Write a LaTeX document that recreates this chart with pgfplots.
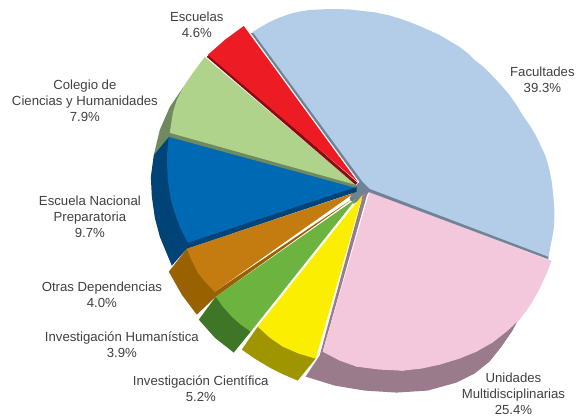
\documentclass[border=0pt]{standalone}
\usepackage{pgfplots}
\usepackage{fontspec}
\setmainfont{Liberation Sans}
\pgfplotsset{compat=1.18}
\definecolor{cFac}{HTML}{B3CDE8}
\definecolor{cFacS}{HTML}{6F8296}
\definecolor{cUni}{HTML}{F3C7DC}
\definecolor{cUniS}{HTML}{9A7B8B}
\definecolor{cYel}{HTML}{FBEE00}
\definecolor{cYelS}{HTML}{9E9500}
\definecolor{cGre}{HTML}{6DB33F}
\definecolor{cGreS}{HTML}{3E7526}
\definecolor{cOra}{HTML}{C47B10}
\definecolor{cOraS}{HTML}{9A6100}
\definecolor{cBlu}{HTML}{0069B4}
\definecolor{cBluS}{HTML}{004377}
\definecolor{cLgr}{HTML}{B0D38C}
\definecolor{cLgrS}{HTML}{6F8A5E}
\definecolor{cRed}{HTML}{ED1C24}
\definecolor{cRedS}{HTML}{8B0A14}
\definecolor{cTxt}{HTML}{404040}
\begin{document}
\begin{tikzpicture}
\begin{axis}[
  width=578pt,height=418pt,scale only axis,
  xmin=0,xmax=578,ymin=0,ymax=418,y dir=reverse,
  hide axis,clip=false,
  every axis plot/.append style={draw=none,line width=0pt,mark=none},
]
\path (axis cs:0,0) rectangle (axis cs:578,418);
% hub
\addplot[fill=cFacS] coordinates {(355,187)(362,180)(371,190)(368,194)(362,199)(354,204)(350,199)} -- cycle;
% Unidades shadow
\addplot[fill=cUniS] coordinates {(364,193)(368,193)(323,352)(357,367)(403,371)(440,365)(477,352)(507,330)(520,318)(513,331)(502,347)(490,362)(475,374)(457,383)(428,391)(397,393)(365,391)(335,386)(306,377)(320,356)} -- cycle;
% Unidades
\addplot[fill=cUni] coordinates {(370,192)(552,261)(548,272)(543,283)(538,293)(533,302)(527,311)(520,320)(507,332)(493,343)(477,352)(460,359)(440,365)(422,369)(403,371)(380,370)(357,367)(340,361)(323,352)} -- cycle;
% Facultades stripe + top
\addplot[fill=cFacS] coordinates {(251,33)(359,181)(366,191)(549,259.5)(549,255)(370,186)(262,33)} -- cycle;
\addplot[fill=cFac] coordinates {(253,32)(363,182)(370,189)(549,257)(551,247)(553,237)(554.5,227)(555,217)(554.8,207)(554,197)(552.5,183)(550,170)(546,156)(540,143)(536,135)(530,125)(523,115)(517,105)(510,95)(501,84.5)(492,75)(484,67)(475,60)(468,53)(460,47)(450,41)(440,35)(430,30.5)(420,26)(410,22)(400,18.5)(390,15.5)(376,12.5)(363,11)(350,9.5)(337,9)(323,9.3)(310,10)(300,11.5)(290,14)(280,17.5)(270,22)(261,27)} -- cycle;
% Yellow
\addplot[fill=cYelS] coordinates {(258,327)(242,350)(255,359)(270,368)(284,375)(298,381)(316,359)} -- cycle;
\addplot[fill=cYel] coordinates {(363,195)(316,359)(299,354)(283,347)(270,338)(258,327)} -- cycle;
% Green
\addplot[fill=cGreS] coordinates {(216,297)(199,320)(215,338)(234,353)(251,332)} -- cycle;
\addplot[fill=cGre] coordinates {(357,198.5)(251,332)(241,325)(232,317)(223,307)(216,297)} -- cycle;
% Orange
\addplot[fill=cOraS] coordinates {(356,197)(215,292)(187,249)(169,272)(182,295)(197,315)(216,297)} -- cycle;
\addplot[fill=cOra] coordinates {(355,193)(215,292)(206,283)(198,273)(192,261)(187,249)} -- cycle;
% Blue
\addplot[fill=cBluS] coordinates {(357,187)(169,135)(154,155)(151,177)(152,197)(155,218)(160,237)(172,266)(187,249)(357,192)} -- cycle;
\addplot[fill=cBlu] coordinates {(357,187)(169,135)(167,157)(168,180)(171,200)(175,213)(180,227)(188,243)} -- cycle;
% Light green
\addplot[fill=cLgrS] coordinates {(183,88)(170,107)(160,130)(154,155)(169,137)(356,188)(356,185)} -- cycle;
\addplot[fill=cLgr] coordinates {(356,185)(205,57)(193,73)(183,88)(177,100)(173,113)(170,133)} -- cycle;
% Red
\addplot[fill=cRedS] coordinates {(207,57)(356,185)(358,183)(210,54)} -- cycle;
\addplot[fill=cRed] coordinates {(358,182)(244,26)(225,40)(208,55)} -- cycle;
% Labels
\node[align=center,text=cTxt,font=\fontsize{13.2}{16}\selectfont] at (axis cs:543,80) {Facultades\\39.3\%};
\node[align=center,text=cTxt,font=\fontsize{13.2}{16}\selectfont] at (axis cs:514,394) {Unidades\\Multidisciplinarias\\25.4\%};
\node[align=center,text=cTxt,font=\fontsize{13.2}{16}\selectfont] at (axis cs:201,389) {Investigación Científica\\5.2\%};
\node[align=center,text=cTxt,font=\fontsize{13.2}{16}\selectfont] at (axis cs:122,345) {Investigación Humanística\\3.9\%};
\node[align=center,text=cTxt,font=\fontsize{13.2}{16}\selectfont] at (axis cs:102,295) {Otras Dependencias\\4.0\%};
\node[align=center,text=cTxt,font=\fontsize{13.2}{16}\selectfont] at (axis cs:90,217) {Escuela Nacional\\Preparatoria\\9.7\%};
\node[align=center,text=cTxt,font=\fontsize{13.2}{16}\selectfont] at (axis cs:85,101) {Colegio de\\Ciencias y Humanidades\\7.9\%};
\node[align=center,text=cTxt,font=\fontsize{13.2}{16}\selectfont] at (axis cs:197,25) {Escuelas\\4.6\%};
\end{axis}
\end{tikzpicture}
\end{document}
